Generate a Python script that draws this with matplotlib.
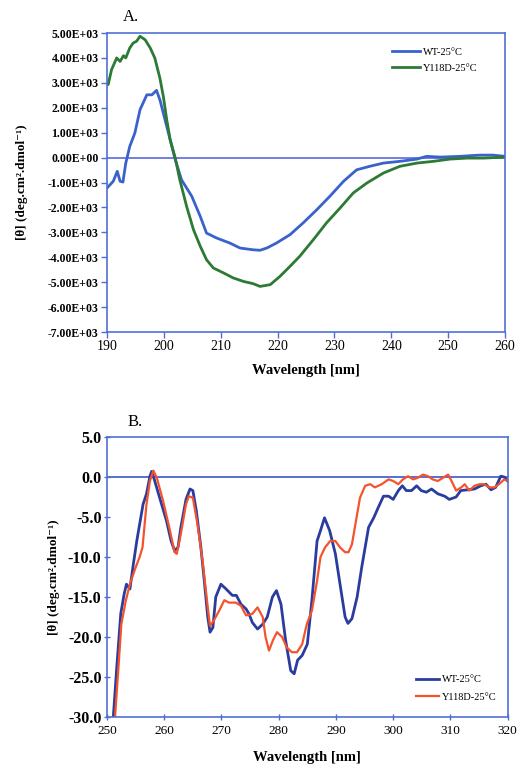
import numpy as np
import matplotlib
matplotlib.use("Agg")
import matplotlib.pyplot as plt

plt.rcParams['font.family'] = ['Liberation Serif', 'DejaVu Serif']

# panel A: far-UV CD
a_wt_x = [190, 191.1, 191.8, 192.3, 192.8, 193.3, 194, 194.9, 195.8, 197, 197.9, 198.7, 199.3,
          200.2, 201.1, 202, 203.1, 204.9, 206.4, 207.5, 209.3, 211.6, 213.4, 215.7, 216.9,
          218.1, 219.8, 222.2, 224.5, 226.9, 229.2, 231.6, 233.9, 236.2, 238.6, 241.5, 244.5,
          246.2, 248.6, 252, 255.6, 257.9, 260]
a_wt_y = [-1220, -950, -550, -950, -980, -220, 450, 990, 1920, 2520, 2520, 2700, 2320,
          1520, 720, -80, -890, -1550, -2360, -3030, -3230, -3430, -3630, -3700, -3720,
          -3630, -3430, -3090, -2620, -2090, -1550, -950, -490, -350, -220, -150, -60,
          50, 20, 50, 100, 100, 50]

a_mut_x = [190, 190.2, 190.8, 191.7, 192.3, 192.9, 193.3, 194, 194.6, 195.2, 195.8, 196.7,
           197.6, 198.4, 199.3, 199.9, 200.5, 201.1, 202, 202.8, 204, 205.2, 206.4, 207.5,
           208.7, 210.5, 212.2, 214, 215.7, 216.9, 218.7, 220.4, 222.2, 223.9, 226.3, 228.6,
           231, 233.3, 235.7, 238.6, 241.5, 244.5, 247.4, 250.3, 253.3, 256.2, 260]
a_mut_y = [3000, 2930, 3530, 4000, 3860, 4090, 4000, 4400, 4600, 4670, 4870, 4730,
           4400, 4000, 3190, 2460, 1520, 720, -20, -890, -1960, -2890, -3560, -4100,
           -4430, -4630, -4830, -4970, -5060, -5170, -5100, -4770, -4360, -3960, -3290, -2620,
           -2020, -1420, -1020, -620, -350, -220, -150, -60, -20, -20, 20]

# panel B: near-UV CD
b_wt_x = [251.1, 251.7, 252.4, 253, 253.4, 254, 254.6, 255.2, 255.7, 256.3, 256.9, 257.5, 257.8,
          258.3, 259.2, 260.4, 261.2, 261.8, 262.4, 262.9, 263.8, 264.5, 265, 265.6, 266.4,
          267, 267.6, 268, 268.5, 269, 269.9, 270.8, 271.9, 272.6, 273.4, 274.3, 274.8,
          275.4, 276.3, 277.2, 278, 278.9, 279.6, 280.4, 281.2, 282.1, 282.7, 283.3, 284.1,
          285, 285.8, 286.7, 287.3, 288, 288.9, 289.9, 290.8, 291.6, 292.1, 292.8, 293.7,
          294.5, 295.7, 296.6, 297.4, 298.3, 299.2, 300, 300.9, 301.6, 302.3, 303.2, 304.1,
          304.9, 305.8, 306.7, 307.8, 309, 309.8, 311, 311.8, 313, 314.2, 315.3, 316.2,
          317.1, 317.9, 318.8, 319.4, 320]
b_wt_y = [-30, -23.8, -17.1, -14.6, -13.4, -14, -10.9, -8, -5.9, -3.4, -2.1, 0.1, 0.7,
          -0.4, -2.6, -5.5, -8, -9.2, -8.8, -6.3, -2.8, -1.5, -1.7, -4.2, -8.8,
          -13, -17.5, -19.4, -18.8, -15, -13.4, -14, -14.8, -14.8, -15.9, -16.5, -17.1,
          -18.2, -19, -18.4, -17.5, -15, -14.2, -15.9, -20.4, -24.2, -24.6, -22.9, -22.3,
          -20.9, -15.4, -8, -6.7, -5.1, -6.7, -9.6, -13.8, -17.5, -18.3, -17.7, -15,
          -11.3, -6.3, -5.1, -3.8, -2.4, -2.4, -2.8, -1.7, -1.1, -1.7, -1.7, -1.1,
          -1.7, -1.9, -1.5, -2.1, -2.4, -2.8, -2.5, -1.7, -1.6, -1.5, -1.1, -0.9,
          -1.6, -1.3, 0.1, 0, -0.5]

b_mut_x = [251.4, 252, 252.5, 253.3, 254, 254.9, 255.7, 256.2, 256.9, 257.5, 258.1, 258.7,
           259.8, 261, 261.8, 262.2, 262.9, 263.8, 264.3, 265, 265.8, 266.7, 267.6, 268,
           268.7, 269.6, 270.5, 271.3, 272.5, 273.4, 274.3, 275.4, 276.3, 277.2, 277.7,
           278.3, 279, 279.7, 280.6, 281.4, 282.3, 283.2, 284.1, 284.9, 285.8, 286.7,
           287.3, 288.1, 289, 289.9, 290.7, 291.6, 292.2, 292.8, 293.4, 294.2, 295.1, 296,
           296.8, 298, 299.2, 300, 300.9, 301.7, 302.6, 303.5, 304.3, 305.2, 306.1, 306.9,
           307.8, 308.7, 309.6, 310.2, 311, 311.9, 312.5, 313.3, 314.2, 315.1, 315.9,
           316.8, 317.7, 318.5, 319.4, 320]
b_mut_y = [-30, -23.8, -18.4, -15.4, -13.4, -11.5, -10, -8.8, -3.4, -0.5, 0.8, -0.1,
           -3, -6.7, -9.4, -9.6, -7.1, -3.4, -2.4, -2.6, -5.9, -10.5, -16.3, -18.6,
           -17.9, -16.7, -15.4, -15.7, -15.7, -16.1, -17.3, -17.1, -16.3, -17.5, -20,
           -21.7, -20.4, -19.4, -20, -21.3, -21.9, -21.9, -20.9, -18.4, -16.7, -13,
           -10, -8.8, -8, -8, -8.8, -9.4, -9.4, -8.4, -5.9, -2.6, -1.1, -0.9,
           -1.3, -0.9, -0.3, -0.5, -0.9, -0.3, 0.1, -0.3, -0.1, 0.3, 0.1, -0.3,
           -0.5, -0.1, 0.3, -0.5, -1.7, -1.3, -0.9, -1.7, -1.1, -0.9, -0.9,
           -1.3, -1.3, -0.9, -0.3, -0.5]

labels = ['WT-25°C', 'Y118D-25°C']
frame_col = '#4f6fd6'
ylab = '[θ] (deg.cm².dmol⁻¹)'


def style_axes(ax, xsize, ysize, tickdir, xpad):
    for s in ax.spines.values():
        s.set_color(frame_col)
        s.set_linewidth(1.2)
    ax.tick_params(direction=tickdir, length=4, width=1, color=frame_col, pad=2)
    ax.tick_params(axis='x', labelsize=xsize)
    ax.tick_params(axis='y', labelsize=ysize)
    for t in ax.get_yticklabels():
        t.set_fontweight('bold')
    ax.set_xlabel('Wavelength [nm]', fontsize=10.5, fontweight='bold', labelpad=xpad)


fig = plt.figure(figsize=(5.18, 7.68), dpi=100)

axA = fig.add_axes([0.2066, 0.5677, 0.7684, 0.3893])
axA.axhline(0, color='#5a6ae0', lw=1.2, zorder=1)
axA.plot(a_wt_x, a_wt_y, color='#3a62cc', lw=2, label=labels[0])
axA.plot(a_mut_x, a_mut_y, color='#2c7a34', lw=2, label=labels[1])
axA.set_xlim(190, 260)
axA.set_ylim(-7000, 5000)
axA.set_xticks(np.arange(190, 261, 10))
axA.set_yticks(np.arange(-7000, 5001, 1000))
axA.set_yticklabels(['%.2fE+03' % (v / 1000) if v != 0 else '0.00E+00'
                     for v in np.arange(-7000, 5001, 1000)])
style_axes(axA, 10, 8.5, 'out', 8)
axA.set_ylabel(ylab, fontsize=9.5, fontweight='bold', labelpad=14)
axA.legend(loc='upper right', bbox_to_anchor=(0.955, 0.982), frameon=False,
           fontsize=7.5, handlelength=2.7, handletextpad=0.3, labelspacing=0.65)
fig.text(0.252, 0.978, 'A.', fontsize=12, ha='center', va='center')

axB = fig.add_axes([0.2066, 0.0664, 0.7734, 0.3646])
axB.axhline(0, color='#3a56c8', lw=1.2, zorder=1)
axB.plot(b_wt_x, b_wt_y, color='#2a3d9e', lw=2, label=labels[0])
axB.plot(b_mut_x, b_mut_y, color='#f4532c', lw=1.6, label=labels[1])
axB.set_xlim(250, 320)
axB.set_ylim(-30, 5)
axB.set_xticks(np.arange(250, 321, 10))
axB.set_yticks(np.arange(-30, 5.1, 5))
axB.set_yticklabels(['%.1f' % v for v in np.arange(-30, 5.1, 5)])
style_axes(axB, 9.5, 11.5, 'inout', 10)
axB.tick_params(axis='x', pad=4)
axB.set_ylabel(ylab, fontsize=9.5, fontweight='bold', labelpad=6)
axB.legend(loc='lower right', bbox_to_anchor=(0.995, 0.02), frameon=False,
           fontsize=7.5, handlelength=2.2, handletextpad=0.3, labelspacing=0.8)
fig.text(0.26, 0.451, 'B.', fontsize=12, ha='center', va='center')

fig.savefig('out.png', dpi=100)
